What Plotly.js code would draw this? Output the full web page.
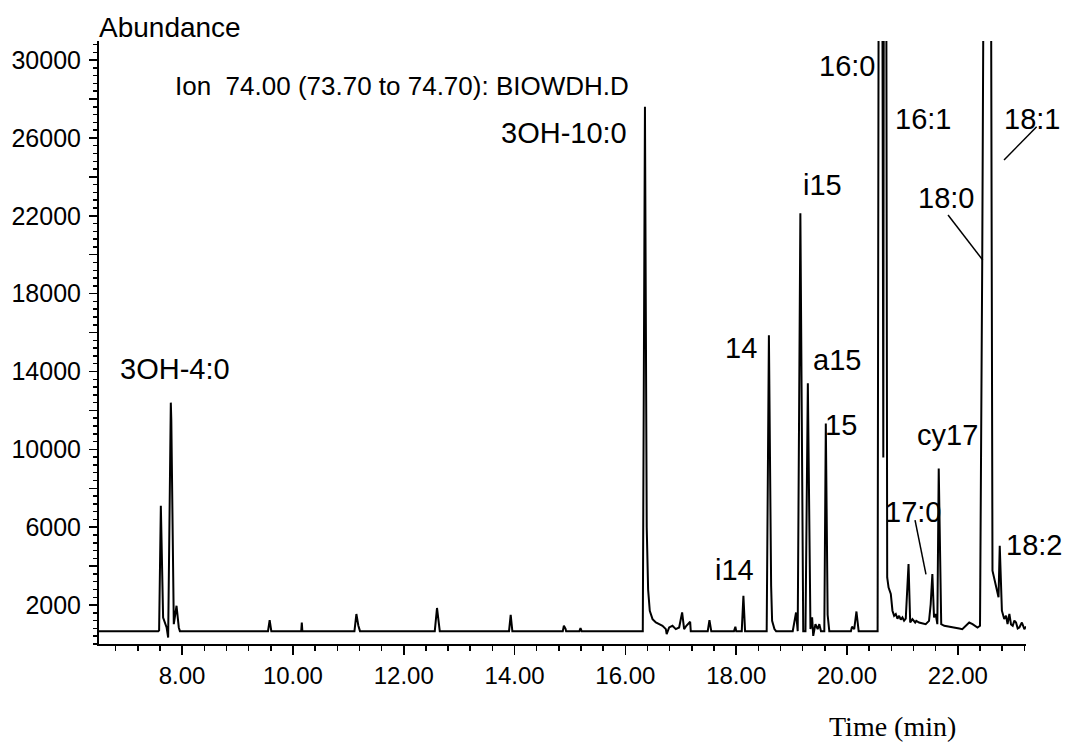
<!DOCTYPE html>
<html>
<head>
<meta charset="utf-8">
<script src="https://cdn.plot.ly/plotly-3.0.1.min.js"></script>
<style>html,body{margin:0;padding:0;background:#fff;}#chart{width:1066px;height:746px;}</style>
</head>
<body>
<div id="chart"></div>
<script>
// Retention time (min)
const timeMin = [
  6.50, 7.57, 7.585, 7.598, 7.616, 7.657, 7.72, 7.748, 7.796, 7.805, 7.85, 7.899, 7.94, 7.96,
  9.55, 9.58, 9.61, 10.15, 10.16, 10.17, 11.11, 11.145, 11.18, 11.21,
  12.56, 12.60, 12.65, 13.90, 13.93, 13.96, 14.87, 14.89, 14.92, 14.93, 15.17, 15.19, 15.21,
  16.314, 16.353, 16.385, 16.41, 16.44, 16.49, 16.55, 16.61, 16.67, 16.73, 16.745, 16.79, 16.85, 16.91, 16.97,
  17.024, 17.06, 17.10, 17.169, 17.18, 17.486, 17.517, 17.55, 17.96, 17.985, 18.00,
  18.10, 18.13, 18.16, 18.55, 18.59, 18.63, 18.648, 18.69, 18.72,
  19.02, 19.05, 19.08, 19.11, 19.158, 19.21, 19.25, 19.293, 19.34, 19.37, 19.39, 19.43, 19.47, 19.50, 19.53,
  19.59, 19.617, 19.65, 19.68, 20.07, 20.09, 20.13, 20.17, 20.21,
  20.552, 20.585, 20.62, 20.655, 20.672, 20.695, 20.725, 20.75, 20.79, 20.82, 20.85, 20.88, 20.91, 20.94, 20.97, 21.00, 21.03, 21.06,
  21.11, 21.14, 21.18, 21.23, 21.25, 21.30, 21.36, 21.42, 21.48, 21.51, 21.54, 21.57, 21.60, 21.63,
  21.655, 21.70, 21.755, 21.845, 21.97, 22.025, 22.08, 22.145, 22.205, 22.265, 22.355, 22.40,
  22.44, 22.48, 22.59, 22.625, 22.687, 22.734, 22.756, 22.795, 22.837, 22.87, 22.897, 22.93, 22.96, 22.99,
  23.02, 23.05, 23.08, 23.11, 23.156, 23.20, 23.23
];
// Abundance (ion 74.00)
const abundance = [
  660, 660, 700, 4280, 7100, 1360, 850, 330, 12400, 11500, 1020, 1965, 850, 660,
  660, 1230, 660, 660, 1100, 660, 660, 1540, 950, 660,
  660, 1850, 660, 660, 1500, 660, 660, 940, 780, 660, 660, 820, 660,
  660, 27600, 6000, 2800, 1700, 1280, 1105, 1020, 936, 765, 510, 850, 936, 765, 850,
  1620, 765, 936, 1140, 660, 660, 1230, 660, 660, 885, 660,
  660, 2480, 660, 660, 15860, 3000, 1190, 765, 660,
  660, 1105, 1620, 660, 22130, 660, 660, 13390, 765, 1365, 420, 1020, 765, 1020, 660,
  660, 11330, 1500, 660, 660, 885, 765, 1670, 660,
  660, 60000, 60000, 9580, 60000, 60000, 3420, 2900, 2570, 1710, 1450, 1540, 1300, 1450, 1250, 1365, 1200, 1300,
  4110, 1105, 1280, 1105, 1190, 1105, 1050, 1020, 1190, 2050, 3600, 1365, 1540, 1020,
  9010, 1020, 936, 900, 850, 800, 765, 936, 1105, 1020, 850, 936,
  19700, 45000, 45000, 3770, 2900, 2400, 5050, 1710, 1280, 1450, 1020, 1540, 1000, 936,
  1200, 1105, 800, 850, 1105, 765, 900
];

// Peak labels and their positions (paper fraction of plot area)
const peakLabels = ["3OH-4:0", "3OH-10:0", "14", "i14", "i15", "a15", "15", "16:0", "16:1", "18:0", "18:1", "17:0", "cy17", "18:2"];
const labelX = [0.082, 0.5016, 0.6926, 0.686, 0.780, 0.7961, 0.8004, 0.8069, 0.8889, 0.9132, 1.0061, 0.8784, 0.9153, 1.0086];
const labelY = [0.456, 0.8474, 0.4909, 0.1227, 0.761, 0.471, 0.3632, 0.9585, 0.8706, 0.7396, 0.8706, 0.2181, 0.3466, 0.1642];

// Leader lines for 18:1, 18:0, 17:0
const leaderX0 = [1.0115, 0.9159, 0.8803];
const leaderY0 = [0.8579, 0.7114, 0.2056];
const leaderX1 = [0.9763, 0.9533, 0.8921];
const leaderY1 = [0.8027, 0.6368, 0.1156];

// Y tick labels
const yTickVals = [2000, 4000, 6000, 8000, 10000, 12000, 14000, 16000, 18000, 20000, 22000, 24000, 26000, 28000, 30000];
const yTickText = ["2000", "", "6000", "", "10000", "", "14000", "", "18000", "", "22000", "", "26000", "", "30000"];

const headerText = "Ion  74.00 (73.70 to 74.70): BIOWDH.D";

const SANS = "Liberation Sans, Arial, Helvetica, sans-serif";

const trace = {
  x: timeMin, y: abundance, type: "scatter", mode: "lines",
  line: {color: "#000", width: 2}, hoverinfo: "x+y", showlegend: false
};

const annotations = peakLabels.map((t, i) => ({
  text: t, xref: "paper", yref: "paper", x: labelX[i], y: labelY[i],
  xanchor: "center", yanchor: "middle", showarrow: false,
  font: {family: SANS, size: 29, color: "#000"}
}));
annotations.push({
  text: "Abundance", xref: "paper", yref: "paper", x: -0.002, y: 1.0232,
  xanchor: "left", yanchor: "middle", showarrow: false,
  font: {family: SANS, size: 28, color: "#000"}
});
annotations.push({
  text: headerText, xref: "paper", yref: "paper", x: 0.3269, y: 0.9254,
  xanchor: "center", yanchor: "middle", showarrow: false,
  font: {family: SANS, size: 26, color: "#000"}
});
annotations.push({
  text: "Time (min)", xref: "paper", yref: "paper", x: 0.856, y: -0.1376,
  xanchor: "center", yanchor: "middle", showarrow: false,
  font: {family: "Liberation Serif, Times New Roman, serif", size: 28, color: "#000"}
});

const shapes = leaderX0.map((x0, i) => ({
  type: "line", xref: "paper", yref: "paper",
  x0: x0, y0: leaderY0[i], x1: leaderX1[i], y1: leaderY1[i],
  line: {color: "#000", width: 1.5}
}));

const layout = {
  width: 1066, height: 746,
  margin: {l: 99, r: 40, t: 41, b: 102, pad: 0},
  paper_bgcolor: "#fff", plot_bgcolor: "#fff",
  showlegend: false,
  font: {family: SANS, color: "#000"},
  xaxis: {
    range: [6.5, 23.23], showgrid: false, zeroline: false,
    showline: true, linecolor: "#000", linewidth: 2,
    tickmode: "linear", tick0: 8, dtick: 2, tickformat: ".2f",
    ticks: "outside", ticklen: 9, tickwidth: 1.5, tickcolor: "#000",
    tickfont: {family: SANS, size: 24, color: "#000"},
    minor: {tickmode: "linear", tick0: 8, dtick: 0.4, ticks: "outside", ticklen: 5, tickwidth: 1.5, tickcolor: "#000", showgrid: false}
  },
  yaxis: {
    range: [0, 30980], showgrid: false, zeroline: false,
    showline: true, linecolor: "#000", linewidth: 2,
    tickmode: "array", tickvals: yTickVals, ticktext: yTickText,
    ticks: "outside", ticklen: 8, tickwidth: 1.5, tickcolor: "#000",
    ticklabelstandoff: 3,
    tickfont: {family: SANS, size: 25, color: "#000"},
    minor: {tickmode: "linear", tick0: 0, dtick: 400, ticks: "outside", ticklen: 4, tickwidth: 1.5, tickcolor: "#000", showgrid: false}
  },
  annotations: annotations,
  shapes: shapes
};

Plotly.newPlot("chart", [trace], layout, {displayModeBar: false, staticPlot: true});
</script>
</body>
</html>
